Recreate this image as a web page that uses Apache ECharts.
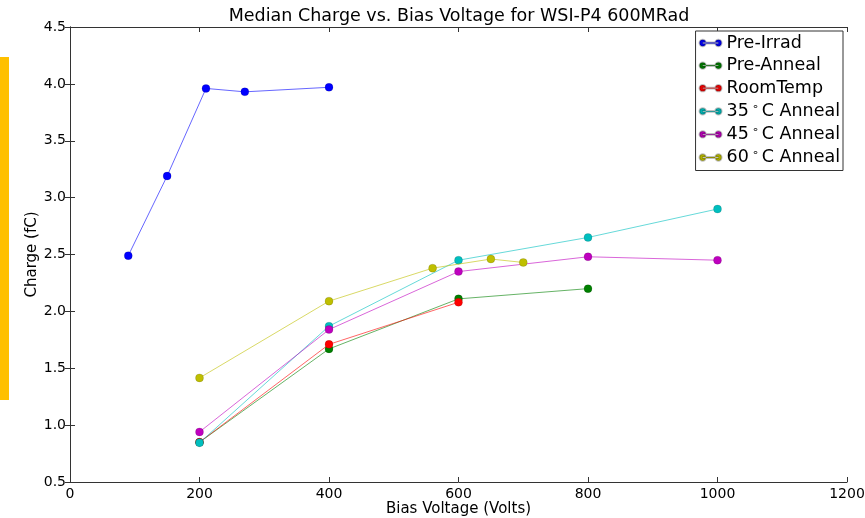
<!DOCTYPE html>
<html>
<head>
<meta charset="utf-8">
<script src="https://cdn.jsdelivr.net/npm/echarts@6/dist/echarts.min.js"></script>
<style>
  html, body { margin: 0; padding: 0; background: #fff; overflow: hidden; }
  #chart { width: 865px; height: 518px; }
</style>
</head>
<body>
<div id="chart"></div>
<script>
// Median charge (fC) against bias voltage (V) for each sample state
const preIrrad   = [[90, 2.49], [150, 3.19], [210, 3.96], [270, 3.93], [400, 3.97]];
const preAnneal  = [[200, 0.85], [400, 1.67], [600, 2.11], [800, 2.20]];
const roomTemp   = [[200, 0.85], [400, 1.71], [600, 2.08]];
const anneal35   = [[200, 0.845], [400, 1.87], [600, 2.45], [800, 2.65], [1000, 2.90]];
const anneal45   = [[200, 0.94], [400, 1.84], [600, 2.35], [800, 2.48], [1000, 2.45]];
const anneal60   = [[200, 1.415], [400, 2.09], [560, 2.38], [650, 2.46], [700, 2.43]];

const seriesNames = ['Pre-Irrad', 'Pre-Anneal', 'RoomTemp', '35°C Anneal', '45°C Anneal', '60°C Anneal'];
const seriesData  = [preIrrad, preAnneal, roomTemp, anneal35, anneal45, anneal60];
const seriesColors = ['#0000ff', '#008000', '#ff0000', '#00bfbf', '#bf00bf', '#bfbf00'];

const xTicks = { min: 0, max: 1200, step: 200 };
const yTicks = { min: 0.5, max: 4.5, step: 0.5 };

const font = 'DejaVu Sans';
// legend glyph: two dots joined by a thin line
const legendIcon = 'path://M0,4 a4,4 0 1,0 8,0 a4,4 0 1,0 -8,0 Z M20,4 a4,4 0 1,0 8,0 a4,4 0 1,0 -8,0 Z M4,3.5 L24,3.5 L24,4.5 L4,4.5 Z';

const chart = echarts.init(document.getElementById('chart'), null, { renderer: 'canvas' });

const axisLine = { show: true, lineStyle: { color: '#333', width: 1 } };
const tick = { show: true, inside: true, length: 5, lineStyle: { color: '#333' } };

chart.setOption({
  animation: false,
  backgroundColor: '#fff',
  grid: { left: 70, right: 18, top: 27, bottom: 36, containLabel: false, outerBoundsMode: 'none' },
  graphic: [
    { type: 'rect', left: 0, top: 57, shape: { width: 9, height: 343 }, style: { fill: '#ffc000' }, silent: true },
    { type: 'text', x: 459, y: 7, style: { text: 'Median Charge vs. Bias Voltage for WSI-P4 600MRad', font: '17.5px "' + font + '"', fill: '#000', align: 'center', textAlign: 'center' } }
  ],
  legend: {
    orient: 'vertical',
    right: 22,
    top: 31,
    backgroundColor: '#fff',
    borderColor: '#333',
    borderWidth: 1,
    borderRadius: 0,
    padding: [3, 3, 4, 3],
    itemGap: 4.6,
    itemWidth: 22,
    itemHeight: 7,
    icon: legendIcon,
    data: seriesNames,
    textStyle: {
      fontFamily: font, fontSize: 17.5, lineHeight: 18, color: '#000',
      rich: { deg: { fontFamily: font, fontSize: 11, color: '#000', padding: [0, 3, 8, 3] } }
    },
    formatter: name => name.replace('°', '{deg|∘}')
  },
  xAxis: [
    {
      type: 'value', min: xTicks.min, max: xTicks.max, interval: xTicks.step,
      name: 'Bias Voltage (Volts)', nameLocation: 'middle', nameGap: 20, nameMoveOverlap: false,
      nameTextStyle: { fontFamily: font, fontSize: 15, color: '#000' },
      axisLine: axisLine, axisTick: tick, splitLine: { show: false },
      axisLabel: { fontFamily: font, fontSize: 14, color: '#000', margin: 5, formatter: v => String(v) }
    },
    {
      type: 'value', position: 'top', min: xTicks.min, max: xTicks.max, interval: xTicks.step,
      axisLine: axisLine, axisTick: tick, splitLine: { show: false }, axisLabel: { show: false }
    }
  ],
  yAxis: [
    {
      type: 'value', min: yTicks.min, max: yTicks.max, interval: yTicks.step,
      name: 'Charge (fC)', nameLocation: 'middle', nameGap: 30, nameMoveOverlap: false,
      nameTextStyle: { fontFamily: font, fontSize: 15, color: '#000' },
      axisLine: axisLine, axisTick: tick, splitLine: { show: false },
      axisLabel: { fontFamily: font, fontSize: 14, color: '#000', margin: 4, formatter: v => v.toFixed(1) }
    },
    {
      type: 'value', position: 'right', min: yTicks.min, max: yTicks.max, interval: yTicks.step,
      axisLine: axisLine, axisTick: tick, splitLine: { show: false }, axisLabel: { show: false }
    }
  ],
  series: seriesNames.map((name, i) => ({
    name: name,
    type: 'line',
    data: seriesData[i],
    xAxisIndex: 0,
    yAxisIndex: 0,
    z: 2 + i,
    symbol: 'circle',
    symbolSize: 8,
    color: seriesColors[i],
    itemStyle: { color: seriesColors[i], borderColor: 'rgba(0,0,0,0.25)', borderWidth: 0.5 },
    lineStyle: { color: seriesColors[i], width: 1, opacity: 0.6 }
  }))
});
</script>
</body>
</html>
